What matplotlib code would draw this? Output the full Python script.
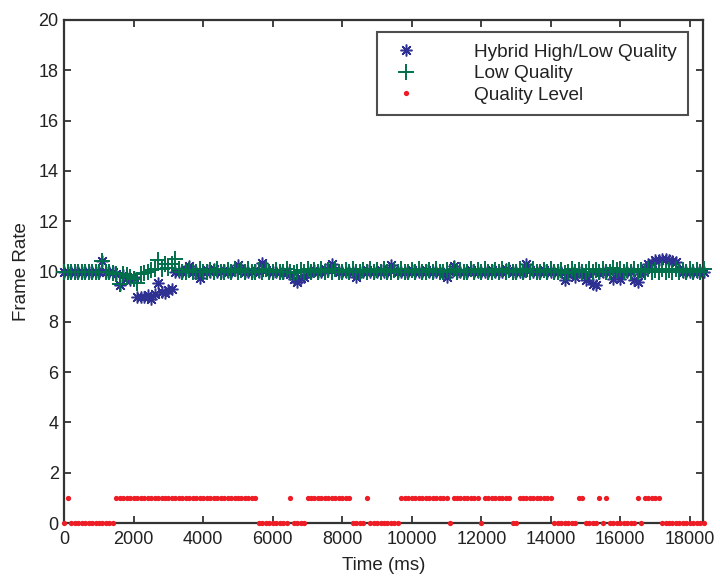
import numpy as np
import matplotlib
matplotlib.use("Agg")
import matplotlib.pyplot as plt

plt.rcParams['font.family'] = ['Liberation Sans', 'DejaVu Sans']

# sampling interval (ms) of the recorded series
sample_ms = 100

# Frame rate, Hybrid High/Low Quality (one value per sample)
hybrid = [
    10, 10, 10, 10, 10, 10, 10, 10, 10, 10,
    10, 10.4, 10, 10, 10, 9.9, 9.45, 9.85, 9.75, 9.65,
    9.8, 9.0, 9.0, 9.0, 9.05, 8.9, 9.1, 9.55, 9.2, 9.15,
    9.25, 9.3, 10.0, 10, 10, 10.05, 10.2, 10, 10, 9.75,
    10, 10.05, 10, 10.1, 10, 10, 10.05, 10, 10, 10.05,
    10.25, 10.1, 10, 10, 10, 10.05, 10, 10.35, 10.05, 10,
    10, 10, 10, 9.95, 10, 9.9, 9.7, 9.6, 9.75, 9.8,
    10, 10, 10.05, 10, 10, 10.1, 10.05, 10.3, 10.05, 10,
    10, 10, 10, 10, 9.8, 10, 10, 10.05, 10, 10,
    10, 10.05, 10, 10, 10.25, 10.05, 10, 10, 10, 10,
    10.05, 10, 10, 10, 10.05, 10, 10, 10, 10, 9.95,
    9.8, 10, 10.2, 10, 10, 10, 10, 10.05, 10, 10,
    10, 10, 10, 10.05, 10, 10, 10, 10.1, 10.05, 10,
    10, 10, 10, 10.3, 10.05, 10, 10, 10, 10.05, 10,
    10, 10, 10, 10, 9.65, 9.9, 10, 9.8, 10, 9.95,
    9.65, 9.9, 9.5, 9.45, 9.95, 10, 10, 10, 9.7, 9.95,
    9.7, 10, 10, 10, 9.65, 9.6, 9.9, 10.1, 10.3, 10.35,
    10.45, 10.45, 10.5, 10.48, 10.45, 10.4, 10.38, 10.1, 10, 10,
    10, 10, 10, 10, 10,
]

# Frame rate, Low Quality
low = [
    10, 10, 10, 10, 10, 10, 10, 10, 10, 10,
    10, 10.4, 10, 10, 9.95, 9.9, 9.5, 9.9, 9.85, 9.8,
    9.7, 9.55, 9.9, 9.95, 10.0, 10.05, 10.1, 10.45, 10.1, 10.3,
    10.15, 10.3, 10.5, 10.1, 10.0, 10, 10.05, 10, 10, 10.1,
    10, 10, 10.05, 10, 10.1, 10, 10, 10.05, 10, 10.1,
    10, 10.05, 10, 10.1, 10, 10, 10.05, 10, 10.1, 10,
    10, 10.05, 10, 10, 10.1, 10, 9.95, 10, 10.05, 10,
    10.1, 10, 10.05, 10, 10.1, 10, 10.05, 10, 10.1, 10,
    10, 10.05, 10, 10.1, 10, 10, 10.05, 10, 10.1, 10,
    10.05, 10, 10.1, 10, 10, 10.05, 10, 10.1, 10, 10,
    10.05, 10, 10.1, 10, 10, 10.05, 10, 10.1, 10, 10,
    10.05, 10, 10.1, 10, 10.05, 10, 10, 10.1, 10, 10.05,
    10, 10.1, 10, 10, 10.05, 10, 10.1, 10, 10.05, 10,
    10, 10.1, 10, 10.05, 10, 10.1, 10, 10, 10.05, 10,
    10.1, 10, 10, 10.05, 9.93, 10, 10.1, 10, 10.05, 10,
    10, 10.1, 10, 10.05, 10, 10.1, 10, 10, 10.13, 10.05,
    10.1, 10, 10.05, 10, 10.1, 10, 10.05, 10, 10.1, 10,
    10.05, 10, 10.1, 10, 10.05, 10, 10.1, 10, 10.05, 10,
    10.1, 10, 10.05, 10, 10.1,
]

# Quality level (0 = low, 1 = high)
quality = [
    0, 1, 0, 0, 0, 0, 0, 0, 0, 0,
    0, 0, 0, 0, 0, 1, 1, 1, 1, 1,
    1, 1, 1, 1, 1, 1, 1, 1, 1, 1,
    1, 1, 1, 1, 1, 1, 1, 1, 1, 1,
    1, 1, 1, 1, 1, 1, 1, 1, 1, 1,
    1, 1, 1, 1, 1, 1, 0, 0, 0, 0,
    0, 0, 0, 0, 0, 1, 0, 0, 0, 0,
    1, 1, 1, 1, 1, 1, 1, 1, 1, 1,
    1, 1, 1, 0, 0, 0, 0, 1, 0, 0,
    0, 0, 0, 0, 0, 0, 0, 1, 1, 1,
    1, 1, 1, 1, 1, 1, 1, 1, 1, 1,
    1, 0, 1, 1, 1, 1, 1, 1, 1, 1,
    0, 1, 1, 1, 1, 1, 1, 1, 1, 0,
    0, 1, 1, 1, 1, 1, 1, 1, 1, 1,
    1, 0, 0, 0, 0, 0, 0, 0, 1, 1,
    0, 0, 0, 0, 1, 0, 1, 0, 0, 0,
    0, 0, 0, 0, 0, 1, 0, 1, 1, 1,
    1, 1, 0, 0, 0, 0, 0, 0, 0, 0,
    0, 0, 0, 0, 0,
]

labels = ["Hybrid High/Low Quality", "Low Quality", "Quality Level"]
xticks = [0, 2000, 4000, 6000, 8000, 10000, 12000, 14000, 16000, 18000]
yticks = [0, 2, 4, 6, 8, 10, 12, 14, 16, 18, 20]

t = np.arange(len(hybrid)) * sample_ms

fig = plt.figure(figsize=(7.2, 5.81), dpi=100)
ax = fig.add_axes([0.0892, 0.0998, 0.8868, 0.8658])

edge = '#333333'
ax.plot(t, hybrid, linestyle='none', marker=(8, 2, 0), markersize=8.5, color='#2e3192',
        markeredgewidth=1.1, label=labels[0], clip_on=False, zorder=3)
ax.plot(t, low, linestyle='none', marker='+', markersize=11, color='#00704a',
        markeredgewidth=1.4, label=labels[1], clip_on=False, zorder=4)
ax.plot(t, quality, linestyle='none', marker='o', markersize=3.8, color='#ee1c25',
        markeredgewidth=0, label=labels[2], clip_on=False, zorder=5)

ax.set_xlim(0, 18370)
ax.set_ylim(0, 20)
ax.set_xticks(xticks)
ax.set_yticks(yticks)
ax.set_xticklabels([str(v) for v in xticks])
ax.set_yticklabels([str(v) for v in yticks])
ax.tick_params(direction='in', length=5, width=1.3, color=edge, labelsize=13,
               labelcolor='#222222', top=True, right=True, pad=4)
ax.tick_params(axis='x', pad=6)
for s in ax.spines.values():
    s.set_linewidth(1.6)
    s.set_color(edge)

ax.set_xlabel('Time (ms)', fontsize=13.5, color='#222222', labelpad=6)
ax.set_ylabel('Frame Rate', fontsize=13.5, color='#222222', labelpad=6)

leg = ax.legend(loc='upper right', bbox_to_anchor=(0.977, 0.976), numpoints=1,
                fontsize=13.7, frameon=True, fancybox=False, borderpad=0.6,
                handlelength=1.9, handletextpad=2.6, labelspacing=0.22,
                borderaxespad=0)
leg.get_frame().set_edgecolor('#222222')
leg.get_frame().set_linewidth(1.5)
for txt in leg.get_texts():
    txt.set_color('#222222')

fig.savefig('out.png', dpi=100)
